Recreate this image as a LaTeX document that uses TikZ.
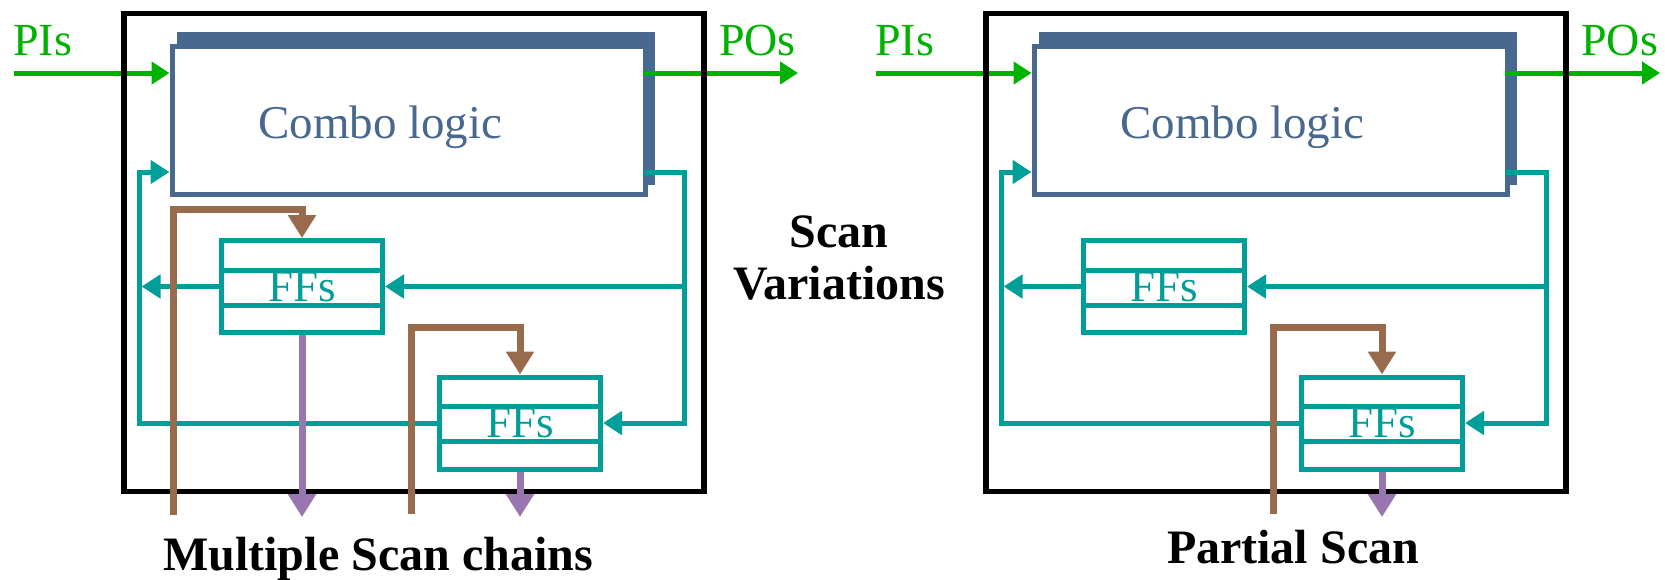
\documentclass[tikz,border=0pt]{standalone}
\usepackage{fontspec}
\setmainfont{Liberation Serif}
\usetikzlibrary{arrows.meta,shadows}
\definecolor{pigreen}{RGB}{0,178,0}
\definecolor{slate}{RGB}{72,104,144}
\definecolor{ffteal}{RGB}{0,158,152}
\definecolor{scanbrown}{RGB}{153,107,77}
\definecolor{scanpurple}{RGB}{153,118,176}
\tikzset{
  io/.style = {pigreen, inner sep=0pt, anchor=base west, font=\fontsize{46}{52}\selectfont},
  ioline/.style = {pigreen, line width=5pt, -{Triangle[length=18pt,width=22pt]}},
  combo/.style = {draw=slate, fill=white, line width=5pt, inner sep=0pt,
                  minimum width=473pt, minimum height=148pt,
                  copy shadow={shadow xshift=7pt, shadow yshift=12pt, draw=slate, fill=slate}},
  logic/.style = {slate, inner sep=0pt, anchor=base west, font=\fontsize{47}{52}\selectfont},
  ffbox/.style = {draw=ffteal, ffteal, line width=5pt, inner sep=0pt,
                  minimum width=161pt, minimum height=92pt, font=\fontsize{45}{50}\selectfont,
                  path picture={\foreach \r in {29.5,64.5}
                    \draw[ffteal, line width=5pt] ([yshift=-\r pt]path picture bounding box.north west)
                      -- ([yshift=-\r pt]path picture bounding box.north east);}},
  frame/.style = {draw=black, line width=5.5pt, inner sep=0pt, minimum width=580pt, minimum height=478pt},
  tl/.style = {ffteal, line width=5pt},
  tlarrow/.style = {tl, -{Triangle[length=19pt,width=23pt]}},
  scan/.style = {scanbrown, line width=7pt, -{Triangle[length=23pt,width=27pt]}},
  scanout/.style = {scanpurple, line width=7pt, -{Triangle[length=23pt,width=27pt]}},
  caption/.style = {inner sep=0pt, anchor=base, font=\bfseries\fontsize{48}{52}\selectfont}
}
\begin{document}
\begin{tikzpicture}[x=1pt,y=-1pt]
\useasboundingbox (0,0) rectangle (1665,579);
% both circuits share the same core
\foreach \s/\dx in {a/0,b/862}{
\begin{scope}[xshift=\dx pt]
  \node[combo] (cb\s) at (408.5,120) {};
  \node[logic] (cl\s) at (258,138.5) {Combo logic};
  \node[ffbox] (fa\s) at (302,286.5) {FFs};
  \node[ffbox] (fb\s) at (520,423) {FFs};
  \node[io] (pi\s) at (13,55) {PIs};
  \node[io] (po\s) at (719,55) {POs};
  \coordinate (in\s) at (14,73);
  \coordinate (out\s) at (798,73);
  \coordinate (rt\s) at (684,172);
  \coordinate (lt\s) at (139,172);
  \draw[ioline] (in\s) -- (in\s -| cb\s.west);
  \draw[ioline] ([xshift=-5pt]in\s -| cb\s.east) -- (out\s);
  \node[frame] (bx\s) at (413.75,252.5) {};
  % feedback through the flip-flops
  \draw[tlarrow] ([xshift=-4pt]rt\s -| cb\s.east) -- (rt\s) |- (fb\s.east);
  \draw[tlarrow] ([xshift=2.5pt]rt\s |- fa\s.east) -- (fa\s.east);
  \draw[tlarrow] (fa\s.west) -- ([xshift=2.5pt]lt\s |- fa\s.west);
  \draw[tlarrow] (fb\s.west) -| (lt\s) -- (lt\s -| cb\s.west);
  % scan chain through the lower FFs
  \coordinate (sb\s) at (411,514);
  \coordinate (ob\s) at (520,517);
  \draw[scan] (sb\s) |- ([yshift=47pt]fb\s.north) -- (fb\s.north);
  \draw[scanout] (fb\s.south) -- (ob\s);
\end{scope}
}
% second chain, left circuit only
\coordinate (sa) at (173,515);
\coordinate (oa) at (302,517);
\draw[scan] (sa) |- ([yshift=29pt]faa.north) -- (faa.north);
\draw[scanout] (faa.south) -- (oa);

\node[caption] (mc) at (378,570) {Multiple Scan chains};
\node[caption] (ps) at (1293,563) {Partial Scan};
\node[caption, anchor=center, align=center] (sv) at (839,258) {Scan\\Variations};
\end{tikzpicture}
\end{document}
